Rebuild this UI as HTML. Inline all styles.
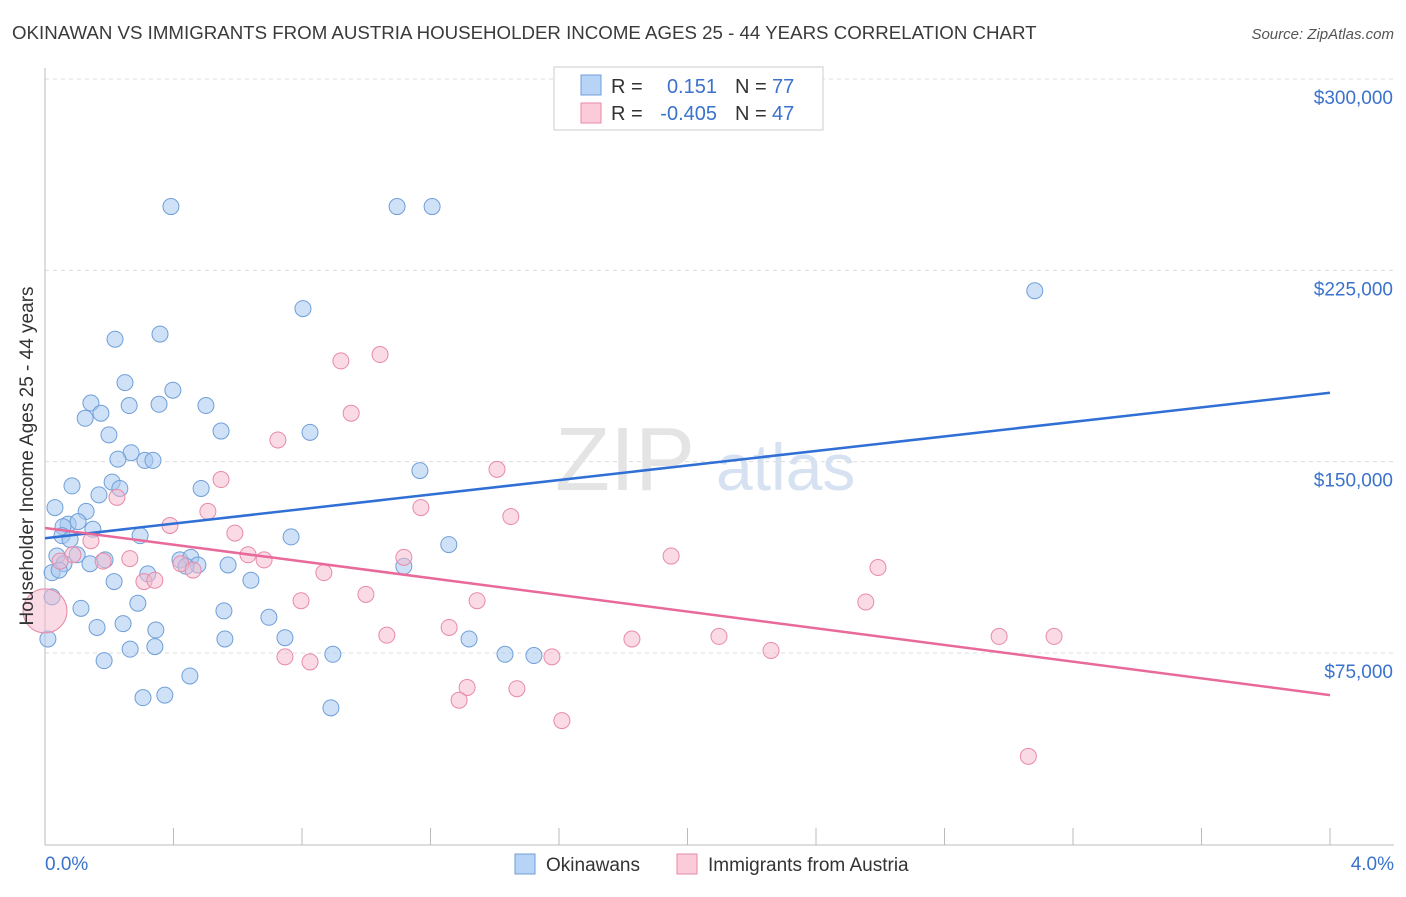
<!DOCTYPE html>
<html><head><meta charset="utf-8"><style>
body{margin:0;background:#fff;font-family:"Liberation Sans",sans-serif;}
svg text{font-family:"Liberation Sans",sans-serif;}
</style></head><body>
<svg id="chart" width="1406" height="892" viewBox="0 0 1406 892" xmlns="http://www.w3.org/2000/svg">
<text x="12" y="39" font-size="18.7" fill="#3a3a3a">OKINAWAN VS IMMIGRANTS FROM AUSTRIA HOUSEHOLDER INCOME AGES 25 - 44 YEARS CORRELATION CHART</text>
<text x="1394" y="39" font-size="15" fill="#555" text-anchor="end" font-style="italic">Source: ZipAtlas.com</text>
<g id="grid"></g>
<text x="555" y="490" font-size="90" fill="#e4e4e4" font-family="Liberation Serif">ZIP</text>
<text x="716" y="490" font-size="66" fill="#d6e2f2">atlas</text>
<g id="axes"></g>
<g id="marks"></g>
<text transform="translate(33,456) rotate(-90)" font-size="19" fill="#333" text-anchor="middle">Householder Income Ages 25 - 44 years</text>
<g>
<rect x="554" y="67" width="269" height="63" fill="#fff" stroke="#ccc"/>
<rect x="581" y="75" width="20" height="20" fill="#b7d3f5" stroke="#6f9fd8"/>
<rect x="581" y="103" width="20" height="20" fill="#fbcbd9" stroke="#e88aa8"/>
<text x="611" y="93" font-size="20" fill="#333">R =</text>
<text x="717" y="93" font-size="20" fill="#3a72cc" text-anchor="end">0.151</text>
<text x="735" y="93" font-size="20" fill="#333">N =</text>
<text x="772" y="93" font-size="20" fill="#3a72cc">77</text>
<text x="611" y="120" font-size="20" fill="#333">R =</text>
<text x="717" y="120" font-size="20" fill="#3a72cc" text-anchor="end">-0.405</text>
<text x="735" y="120" font-size="20" fill="#333">N =</text>
<text x="772" y="120" font-size="20" fill="#3a72cc">47</text>
</g>
<g>
<rect x="515" y="854" width="20" height="20" fill="#b7d3f5" stroke="#6f9fd8"/>
<text x="546" y="871" font-size="19" fill="#333">Okinawans</text>
<rect x="677" y="854" width="20" height="20" fill="#fbcbd9" stroke="#e88aa8"/>
<text x="708" y="871" font-size="19" fill="#333">Immigrants from Austria</text>
</g>
</svg>
<script>
const NS="http://www.w3.org/2000/svg";
const yTicks=[75000,150000,225000,300000];
const yTickLabels=["$75,000","$150,000","$225,000","$300,000"];
const xTicks=[0,0.4,0.8,1.2,1.6,2.0,2.4,2.8,3.2,3.6,4.0];
const xEndLabels=["0.0%","4.0%"];
const blueX=[0.392,1.096,1.205,0.803,3.081,0.218,0.358,0.249,0.398,0.143,0.262,0.355,0.501,0.125,0.174,0.548,0.825,0.199,0.268,0.227,0.311,0.336,1.167,0.209,0.233,0.486,0.084,0.168,0.031,0.128,0.072,0.103,0.149,0.056,0.296,0.766,0.053,0.037,1.257,0.078,0.100,0.140,0.187,0.059,0.420,0.454,0.476,0.439,0.570,0.320,0.022,0.641,0.215,1.117,0.022,0.289,0.112,0.557,0.697,0.243,0.162,0.345,0.009,0.560,0.747,1.320,0.265,0.342,0.896,1.432,1.522,0.184,0.451,0.305,0.373,0.890,0.044];
const blueY=[250000,250000,250000,210000,217000,198000,200000,181000,178000,173000,172000,172500,172000,167000,169000,162000,161500,160500,153500,151000,150500,150500,146500,142000,139500,139500,140500,137000,132000,130500,125500,126500,123500,124500,121000,120500,121000,113000,117500,119500,113500,110000,111500,110000,111500,112500,109500,109000,109500,106000,106500,103500,103000,109000,97000,94500,92500,91500,89000,86500,85000,84000,80500,80500,81000,80500,76500,77500,74500,74500,74000,72000,66000,57500,58500,53500,107500];
const pinkX=[0.0,1.043,0.921,0.953,0.725,0.548,1.407,0.224,0.507,1.170,1.450,0.389,0.591,0.143,0.087,0.264,0.181,0.632,0.682,1.117,1.949,2.593,0.423,0.461,0.868,0.308,0.342,0.999,0.797,1.345,2.555,1.258,1.064,1.827,2.098,2.970,3.141,2.260,0.747,0.825,1.578,1.314,1.469,1.289,1.609,3.061,0.047];
const pinkY=[91500,192000,189500,169000,158500,143000,147000,136000,130500,132000,128500,125000,122000,119000,113500,112000,111000,113500,111500,112500,113000,108500,110000,107500,106500,103000,103500,98000,95500,95500,95000,85000,82000,80500,81500,81500,81500,76000,73500,71500,73500,61500,61000,56500,48500,34500,111000];
const blueLine=[0.0,120000,4.0,177000];
const pinkLine=[0.0,124000,4.0,58500];
const X0=45,X1=1330,YB=653,YT=79;
const xs=v=>X0+(X1-X0)*v/4;
const ys=v=>YB-(YB-YT)*(v-75000)/225000;
function el(tag,attrs,parent){const e=document.createElementNS(NS,tag);for(const k in attrs)e.setAttribute(k,attrs[k]);parent.appendChild(e);return e;}
const grid=document.getElementById('grid'),axes=document.getElementById('axes'),marks=document.getElementById('marks');
yTicks.forEach((t,i)=>{
  const l=el('line',{x1:45,x2:1394,y1:ys(t),y2:ys(t),stroke:'#dcdcdc','stroke-dasharray':'4,4'},grid);
  
  
  const tx=el('text',{x:1393,y:ys(t)+25,'font-size':19,fill:'#3a72cc','text-anchor':'end'},axes);
  tx.textContent=yTickLabels[i];
  
  
});
const ax=el('line',{x1:45,x2:1394,y1:845,y2:845,stroke:'#bbb'},axes);


const ay=el('line',{x1:45,x2:45,y1:68,y2:845,stroke:'#bbb'},axes);


xTicks.forEach(t=>{
  const l=el('line',{x1:xs(t),x2:xs(t),y1:828,y2:845,stroke:'#bbb'},axes);
  
  
});
[[0,'start',45],[4,'end',1394]].forEach((d,i)=>{
  const tx=el('text',{x:d[2],y:870,'font-size':19,fill:'#3a72cc','text-anchor':d[1]},axes);
  tx.textContent=xEndLabels[i];
  
  
});
blueX.forEach((x,i)=>{
  const c=el('circle',{cx:xs(x),cy:ys(blueY[i]),r:8,fill:'rgba(168,200,240,0.55)',stroke:'#6f9fd8','stroke-width':1},marks);
  
  
});
pinkX.forEach((x,i)=>{
  const c=el('circle',{cx:xs(x),cy:ys(pinkY[i]),r:i===0?22:8,fill:'rgba(246,184,203,0.5)',stroke:'#e88aa8','stroke-width':1},marks);
  
  
});
const bl=el('line',{x1:xs(blueLine[0]),y1:ys(blueLine[1]),x2:xs(blueLine[2]),y2:ys(blueLine[3]),stroke:'#2f6fd6','stroke-width':2.5},marks);


const pl=el('line',{x1:xs(pinkLine[0]),y1:ys(pinkLine[1]),x2:xs(pinkLine[2]),y2:ys(pinkLine[3]),stroke:'#e8699a','stroke-width':2.5},marks);


</script>
</body></html>
